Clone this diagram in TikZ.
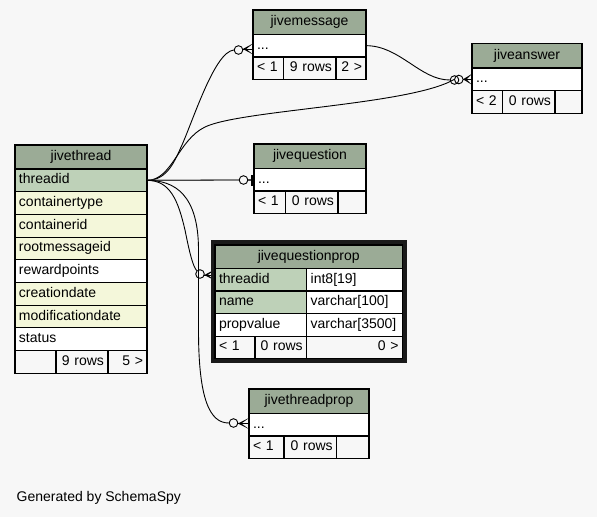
\documentclass[tikz,border=0pt]{standalone}
\usepackage{fontspec}
\setmainfont{Liberation Sans}
\definecolor{bg}{HTML}{F7F7F7}
\definecolor{hdr}{HTML}{9BAB96}
\definecolor{keyc}{HTML}{BED1B8}
\definecolor{colc}{HTML}{F4F7DA}
\definecolor{foot}{HTML}{F7F7F7}
\definecolor{edgegray}{HTML}{444444}
\definecolor{frame}{HTML}{1A1A1A}
\newcommand\tabfont{\fontsize{14}{16}\selectfont}
% cell: name, x1, y1, x2, y2, fill, align, text
\newcommand\C[8]{%
  \pgfmathsetmacro\cw{#4-#2}\pgfmathsetmacro\ch{#5-#3}\pgfmathsetmacro\tw{#4-#2-8}%
  \node[cell, fill=#6, align=#7, minimum width=\cw pt, text width=\tw pt, minimum height=\ch pt] (#1) at (#2,#3) {#8};}
% crow foot: apex x, edge x, y
\newcommand\crow[3]{%
  \fill (#1,#3) -- (#2,#3-5.5) -- (#1+3.5,#3) -- (#2,#3+5.5) -- cycle;
  \draw[line width=0.9pt] (#1,#3) -- (#2,#3);}
\begin{document}
\begin{tikzpicture}[x=1pt,y=-1pt,
  cell/.style={draw=black, line width=1.1pt, inner xsep=4pt, inner ysep=0pt, outer sep=0pt,
    text height=10pt, text depth=3pt, anchor=north west, font=\tabfont},
  odot/.style={circle, draw=black, line width=0.9pt, minimum size=8.6pt, inner sep=0pt},
  edge/.style={draw=black, line width=0.9pt}]
\fill[bg] (0,0) rectangle (597,517);
\useasboundingbox (0,0) rectangle (597,517);

% jivethread
\C{jt-h}{15}{145}{147}{169}{hdr}{center}{jivethread}
\C{jt-threadid}{15}{169}{147}{191.7}{keyc}{left}{threadid}
\C{jt-containertype}{15}{191.7}{147}{214.4}{colc}{left}{containertype}
\C{jt-containerid}{15}{214.4}{147}{237.1}{colc}{left}{containerid}
\C{jt-rootmessageid}{15}{237.1}{147}{259.8}{colc}{left}{rootmessageid}
\C{jt-rewardpoints}{15}{259.8}{147}{282.5}{white}{left}{rewardpoints}
\C{jt-creationdate}{15}{282.5}{147}{305.2}{colc}{left}{creationdate}
\C{jt-modificationdate}{15}{305.2}{147}{327.9}{colc}{left}{modificationdate}
\C{jt-status}{15}{327.9}{147}{350.6}{white}{left}{status}
\C{jt-f1}{15}{350.6}{56}{373.3}{foot}{left}{}
\C{jt-f2}{56}{350.6}{108}{373.3}{foot}{right}{9 rows}
\C{jt-f3}{108}{350.6}{147}{373.3}{foot}{right}{5 >}

% jivemessage
\C{jm-h}{253}{10}{366}{34.3}{hdr}{center}{jivemessage}
\C{jm-r}{253}{34.3}{366}{57}{white}{left}{...}
\C{jm-f1}{253}{57}{283.5}{79.7}{foot}{left}{< 1}
\C{jm-f2}{283.5}{57}{336}{79.7}{foot}{right}{9 rows}
\C{jm-f3}{336}{57}{366}{79.7}{foot}{right}{2 >}

% circles
\node[odot] (o-jm) at (238.5,50) {};
\node[odot] (o-ja1) at (454.5,80) {};
\node[odot] (o-ja2) at (458.8,79.5) {};
\node[odot] (o-jq) at (243.5,180) {};
\node[odot] (o-jqp) at (200,274) {};
\node[odot] (o-jtp) at (233.5,423) {};

% edges
\draw[edge] (jt-threadid.east) .. controls (168,180.3) and (175,160) .. (182,145)
  .. controls (195,115) and (215,52) .. (o-jm.west);
\draw[edge] (jm-r.east) .. controls (400,45.7) and (420,80) .. (o-ja1.west);
\draw[edge] (jt-threadid.east) .. controls (172,180.3) and (178,140) .. (205,127)
  .. controls (240,110) and (410,105) .. (o-ja2.west);
\draw[edge, draw=edgegray, line width=1.3pt] (jt-threadid.east) -- (o-jq.west);
\draw[edge, draw=edgegray, line width=1.3pt] (o-jq.east) -- (251,180);
\draw[edge] (jt-threadid.east) .. controls (170,180.3) and (178,200) .. (185,230)
  .. controls (190,255) and (193,266) .. (o-jqp.north west);
\draw[edge] (jt-threadid.east) .. controls (175,180.3) and (198.5,195) .. (198.5,250)
  -- (198.5,330) .. controls (198.5,400) and (210,423) .. (o-jtp.west);

% arrow ends
\crow{242.8}{253}{49}
\crow{463}{472}{79.3}
\fill (251,174.5) rectangle (254.5,186);
\crow{204.3}{215}{275}
\crow{237.8}{249}{423.5}

% jiveanswer
\C{ja-h}{472}{43.7}{582}{68}{hdr}{center}{jiveanswer}
\C{ja-r}{472}{68}{582}{90.7}{white}{left}{...}
\C{ja-f1}{472}{90.7}{502.5}{113.4}{foot}{left}{< 2}
\C{ja-f2}{502.5}{90.7}{555}{113.4}{foot}{right}{0 rows}
\C{ja-f3}{555}{90.7}{582}{113.4}{foot}{right}{}

% jivequestion
\C{jq-h}{254}{144}{366}{168.3}{hdr}{center}{jivequestion}
\C{jq-r}{254}{168.3}{366}{191}{white}{left}{...}
\C{jq-f1}{254}{191}{285.5}{213.7}{foot}{left}{< 1}
\C{jq-f2}{285.5}{191}{338}{213.7}{foot}{right}{0 rows}
\C{jq-f3}{338}{191}{366}{213.7}{foot}{right}{}

% jivequestionprop
\draw[frame, line width=4.4pt] (213,242.2) rectangle (404.7,360.7);
\C{jqp-h}{215}{245}{402.5}{268.3}{hdr}{center}{jivequestionprop}
\C{jqp-threadid}{215}{268.3}{306.7}{291}{keyc}{left}{threadid}
\C{jqp-threadid-t}{306.7}{268.3}{402.5}{291}{white}{left}{int8[19]}
\C{jqp-name}{215}{291}{306.7}{313.7}{keyc}{left}{name}
\C{jqp-name-t}{306.7}{291}{402.5}{313.7}{white}{left}{varchar[100]}
\C{jqp-propvalue}{215}{313.7}{306.7}{336.4}{white}{left}{propvalue}
\C{jqp-propvalue-t}{306.7}{313.7}{402.5}{336.4}{white}{left}{varchar[3500]}
\C{jqp-f1}{215}{336.4}{255}{358.5}{foot}{left}{< 1}
\C{jqp-f2}{255}{336.4}{306.7}{358.5}{foot}{right}{0 rows}
\C{jqp-f3}{306.7}{336.4}{402.5}{358.5}{foot}{right}{0 >}

% jivethreadprop
\C{jtp-h}{249}{389}{369}{413.3}{hdr}{center}{jivethreadprop}
\C{jtp-r}{249}{413.3}{369}{436}{white}{left}{...}
\C{jtp-f1}{249}{436}{284}{458.7}{foot}{left}{< 1}
\C{jtp-f2}{284}{436}{336.7}{458.7}{foot}{right}{0 rows}
\C{jtp-f3}{336.7}{436}{369}{458.7}{foot}{right}{}

\node[anchor=base west, inner sep=0pt, font=\tabfont] (gen) at (16.5,501) {Generated by SchemaSpy};
\end{tikzpicture}
\end{document}
